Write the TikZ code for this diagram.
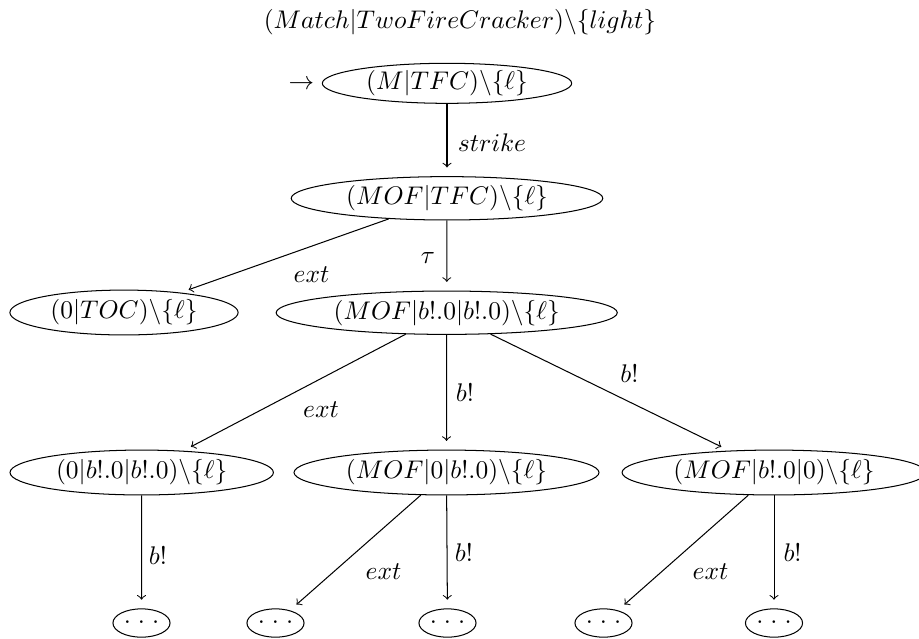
\documentclass[tikz,border=0pt]{standalone}
\usetikzlibrary{shapes.geometric}
\begin{document}
\begin{tikzpicture}[x=0.3922pt,y=-0.3922pt,
  state/.style={draw, ellipse, inner sep=0pt, minimum height=17.6pt},
  dotstate/.style={draw, ellipse, inner sep=0pt, minimum width=22.4pt, minimum height=11.1pt},
  tr/.style={->, shorten >=3.4pt},
  lbl/.style={inner sep=0pt}]
\useasboundingbox (0,0) rectangle (919,638);
\node (title) at (460,22.5) {$(Match|TwoFireCracker)\backslash\{light\}$};
\node[state, minimum width=97.8pt, minimum height=15.7pt] (n0) at (447,83.3) {$(M|TFC)\backslash\{\ell\}$};
\node[anchor=east, inner sep=0pt] (init) at ([xshift=-2.8pt,yshift=-0.6pt]n0.west) {$\rightarrow$};
\node[state, minimum width=122.2pt, minimum height=17pt] (n1) at (447,198.3) {$(MOF|TFC)\backslash\{\ell\}$};
\node[state, minimum width=89.5pt] (n2) at (124,312.5) {$(0|TOC)\backslash\{\ell\}$};
\node[state, minimum width=133.8pt, minimum height=17pt] (n3) at (446.7,312.7) {$(MOF|b!.0|b!.0)\backslash\{\ell\}$};
\node[state, minimum width=103.3pt] (n4) at (141.7,472.5) {$(0|b!.0|b!.0)\backslash\{\ell\}$};
\node[state, minimum width=119.6pt] (n5) at (446.5,472.5) {$(MOF|0|b!.0)\backslash\{\ell\}$};
\node[state, minimum width=119.2pt] (n6) at (774,472.5) {$(MOF|b!.0|0)\backslash\{\ell\}$};
\node[dotstate] (d1) at (141.5,623) {$\cdot\mkern1mu\cdot\mkern1mu\cdot$};
\node[dotstate] (d2) at (275.5,623) {$\cdot\mkern1mu\cdot\mkern1mu\cdot$};
\node[dotstate] (d3) at (447.5,623) {$\cdot\mkern1mu\cdot\mkern1mu\cdot$};
\node[dotstate] (d4) at (603.5,623) {$\cdot\mkern1mu\cdot\mkern1mu\cdot$};
\node[dotstate] (d5) at (774,623) {$\cdot\mkern1mu\cdot\mkern1mu\cdot$};

\draw[tr] (n0) -- (n1) node[lbl] at (492,143) {$strike$};
\draw[tr] (n1) -- (n2) node[lbl] at (311.5,275) {$ext$};
\draw[tr] (n1) -- (n3) node[lbl] at (428,257.5) {$\tau$};
\draw[tr] (n3) -- (n4) node[lbl] at (321,410) {$ext$};
\draw[tr] (n3) -- (n5) node[lbl] at (465,393) {$b!$};
\draw[tr] (n3) -- (n6) node[lbl] at (629.5,374) {$b!$};
\draw[tr] (n4) -- (d1) node[lbl] at (158,556) {$b!$};
\draw[tr] (n5) -- (d2) node[lbl] at (383.5,572) {$ext$};
\draw[tr] (n5) -- (d3) node[lbl] at (464,553) {$b!$};
\draw[tr] (n6) -- (d4) node[lbl] at (710.5,572) {$ext$};
\draw[tr] (n6) -- (d5) node[lbl] at (792.5,553) {$b!$};
\end{tikzpicture}
\end{document}
